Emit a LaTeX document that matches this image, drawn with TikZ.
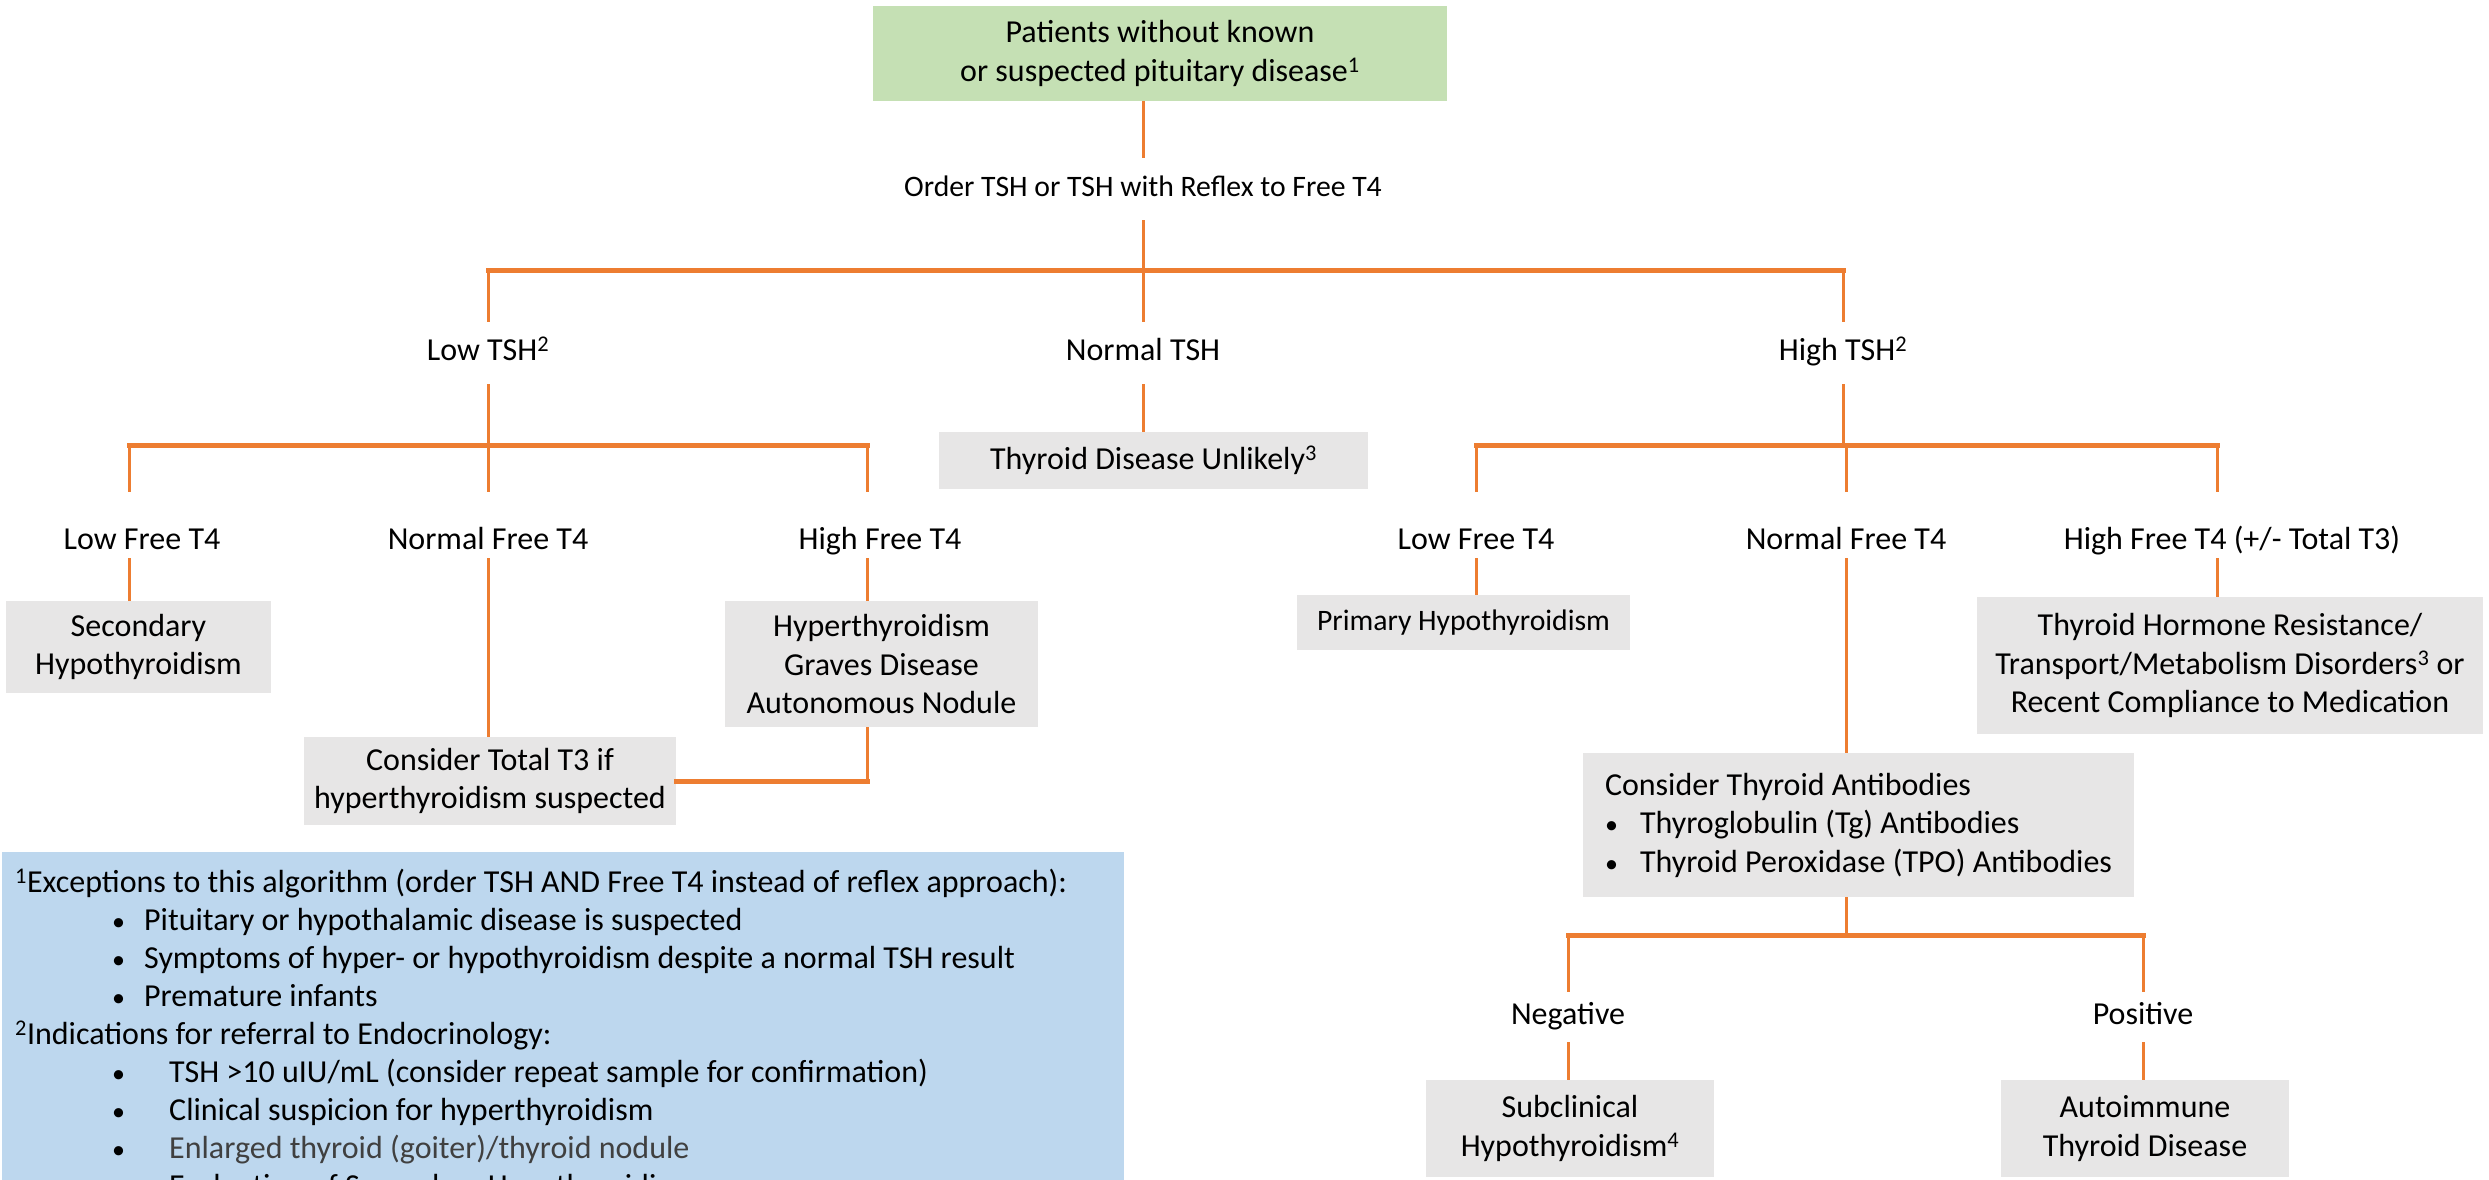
\documentclass[tikz,border=0pt]{standalone}
\usepackage{fontspec}
\setmainfont{Carlito}
\usepackage{xcolor}
\usepackage{tikz}

\definecolor{linkorange}{HTML}{ED7D31}
\definecolor{startgreen}{HTML}{C5E0B4}
\definecolor{boxgrey}{HTML}{E7E6E6}
\definecolor{noteblue}{HTML}{BDD7EE}
\definecolor{notegrey}{HTML}{404040}

\newcommand{\smallbullet}{{\fontsize{26}{26}\selectfont\textbullet}}
\newcommand{\fnitem}[2]{\hspace*{97pt}\makebox[#1][l]{\smallbullet}#2}

\begin{document}
\begin{tikzpicture}[x=1pt,y=-1pt,
    font=\fontsize{32}{38.5}\selectfont,
    link/.style={draw=linkorange, line width=3pt},
    bar/.style={draw=linkorange, line width=5pt, line cap=rect},
    lbl/.style={inner sep=0pt, minimum height=62pt, text height=22pt, text depth=7pt},
    sublbl/.style={inner sep=0pt, minimum height=66pt, text height=55pt, text depth=7pt},
    box/.style={fill=boxgrey, inner sep=0pt, align=center}]
\useasboundingbox (0,0) rectangle (2489,1180);

% top of the tree
\node[fill=startgreen, inner sep=0pt, align=center, minimum width=574pt, minimum height=95pt] (start) at (1160,53.5)
  {Patients without known\\or suspected pituitary disease\textsuperscript{1}};
\node[lbl, font=\fontsize{29.7}{36}\selectfont] (order) at (1143,189) {Order TSH or TSH with Reflex to Free T4};
\draw[link] (start.south -| order) -- (order);

\node[lbl] (lowtsh) at (488,353) {Low TSH\textsuperscript{2}};
\node[lbl] (normtsh) at (1143,353) {Normal TSH};
\node[lbl] (hightsh) at (1843,353) {High TSH\textsuperscript{2}};
\coordinate (j1) at (1143,270);
\draw[link] (order) -- (j1);
\draw[bar] (lowtsh |- j1) -- (hightsh |- j1);
\draw[link] (lowtsh |- j1) -- (lowtsh);
\draw[link] (j1) -- (normtsh);
\draw[link] (hightsh |- j1) -- (hightsh);

\node[box, minimum width=429pt, minimum height=57pt] (unlikely) at (1153.5,460.5) {Thyroid Disease Unlikely\textsuperscript{3}};
\draw[link] (normtsh) -- (normtsh |- unlikely.north);

% low TSH branch
\node[sublbl] (lowfta) at (142,525) {Low Free T4};
\node[sublbl] (normfta) at (488,525) {Normal Free T4};
\node[sublbl] (highfta) at (880,525) {High Free T4};
\coordinate (j2) at (488,445);
\coordinate (lx) at (129,445);
\coordinate (hx) at (867,445);
\draw[link] (lowtsh) -- (j2);
\draw[bar] (lx) -- (hx);
\draw[link] (lx) -- (lx |- lowfta.north);
\draw[link] (j2) -- (normfta);
\draw[link] (hx) -- (hx |- highfta.north);

\node[box, minimum width=265pt, minimum height=92pt] (secondary) at (138.5,647) {Secondary\\Hypothyroidism};
\node[box, minimum width=372pt, minimum height=88pt] (totalt) at (490,781) {Consider Total T3 if\\hyperthyroidism suspected};
\node[box, minimum width=313pt, minimum height=126pt] (hyper) at (881.5,664) {Hyperthyroidism\\Graves Disease\\Autonomous Nodule};
\draw[link] (lx |- lowfta.south) -- (lx |- secondary.north);
\draw[link] (normfta) -- (normfta |- totalt.north);
\draw[link] (hx |- highfta.south) -- (hx |- hyper.north);
\draw[link] (hx |- hyper.south) -- (hx |- totalt.east);
\draw[bar] (hx |- totalt.east) -- (totalt.east);

% high TSH branch
\node[sublbl] (lowftb) at (1476,525) {Low Free T4};
\node[sublbl] (normftb) at (1846,525) {Normal Free T4};
\node[sublbl] (highftb) at (2232,525) {High Free T4 (+/- Total T3)};
\coordinate (j3) at (1843,445);
\coordinate (rx) at (2217,445);
\draw[link] (hightsh) -- (j3);
\draw[bar] (lowftb |- j3) -- (rx);
\draw[link] (lowftb |- j3) -- (lowftb);
\draw[link] (normftb |- j3) -- (normftb);
\draw[link] (rx) -- (rx |- highftb.north);

\node[box, minimum width=333pt, minimum height=55pt, font=\fontsize{29.7}{36}\selectfont] (primary) at (1463.5,622.5) {Primary Hypothyroidism};
\node[box, minimum width=506pt, minimum height=137pt] (resist) at (2230,665.5)
  {Thyroid Hormone Resistance/\\Transport/Metabolism Disorders\textsuperscript{3} or\\Recent Compliance to Medication};
\node[box, align=flush left, minimum width=551pt, minimum height=144pt] (antib) at (1858.5,825)
  {Consider Thyroid Antibodies\\
   \makebox[35pt][l]{\smallbullet}Thyroglobulin (Tg) Antibodies\\
   \makebox[35pt][l]{\smallbullet}Thyroid Peroxidase (TPO) Antibodies};
\draw[link] (lowftb) -- (lowftb |- primary.north);
\draw[link] (rx |- highftb.south) -- (rx |- resist.north);
\draw[link] (normftb) -- (normftb |- antib.north);

\node[lbl, minimum height=50pt] (negative) at (1568,1017) {Negative};
\node[lbl, minimum height=50pt] (positive) at (2143,1017) {Positive};
\coordinate (j4) at (1846,935);
\draw[link] (antib.south -| j4) -- (j4);
\draw[bar] (negative |- j4) -- (positive |- j4);
\draw[link] (negative |- j4) -- (negative);
\draw[link] (positive |- j4) -- (positive);

\node[box, minimum width=288pt, minimum height=97pt] (subclin) at (1570,1128.5) {Subclinical\\Hypothyroidism\textsuperscript{4}};
\node[box, minimum width=288pt, minimum height=97pt] (autoimm) at (2145,1128.5) {Autoimmune\\Thyroid Disease};
\draw[link] (negative) -- (negative |- subclin.north);
\draw[link] (positive) -- (positive |- autoimm.north);

% footnotes
\begin{scope}
\clip (0,0) rectangle (2489,1180);
\fill[noteblue] (2,852) rectangle (1124,1200);
\node[anchor=north west, align=left, inner sep=0pt, font=\fontsize{32}{38}\selectfont] (notes) at (15,869)
  {\textsuperscript{1}Exceptions to this algorithm (order TSH AND Free T4 instead of reflex approach):\\
   \fnitem{32pt}{Pituitary or hypothalamic disease is suspected}\\
   \fnitem{32pt}{Symptoms of hyper- or hypothyroidism despite a normal TSH result}\\
   \fnitem{32pt}{Premature infants}\\
   \textsuperscript{2}Indications for referral to Endocrinology:\\
   \fnitem{57pt}{TSH >10 uIU/mL (consider repeat sample for confirmation)}\\
   \fnitem{57pt}{Clinical suspicion for hyperthyroidism}\\
   \fnitem{57pt}{\textcolor{notegrey}{Enlarged thyroid (goiter)/thyroid nodule}}\\
   \fnitem{57pt}{Evaluation of Secondary Hypothyroidism}};
\end{scope}
\end{tikzpicture}
\end{document}
